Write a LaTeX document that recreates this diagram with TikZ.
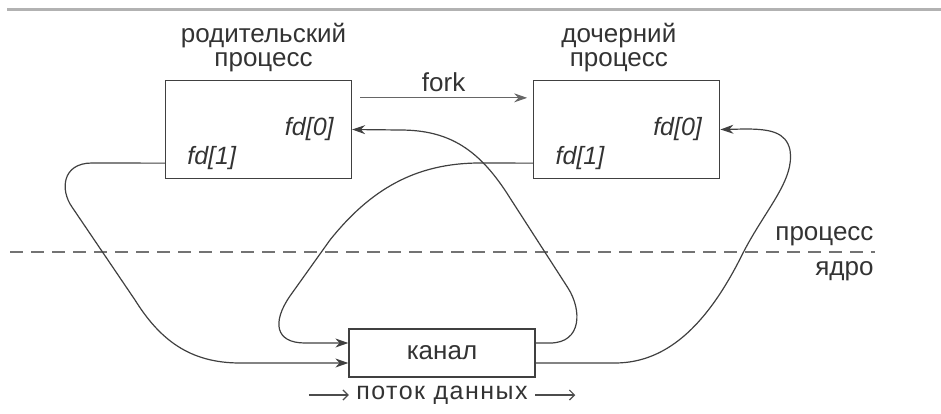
\documentclass[tikz,border=0pt]{standalone}
\usepackage{fontspec}
\setmainfont{Liberation Sans}
\usetikzlibrary{arrows.meta,positioning}

\begin{document}
\begin{tikzpicture}[
    x=1pt, y=-1pt,
    font=\fontsize{26}{24}\selectfont,
    text=black!80,
    proc/.style={draw=black!75, line width=1.3pt, minimum width=186pt, minimum height=98pt, inner sep=0pt},
    fdlabel/.style={font=\fontsize{25}{22}\selectfont\itshape},
    caption/.style={align=center, inner sep=1pt},
    arrow/.style={-{Stealth[length=13pt,width=9pt]}, line width=1.2pt, draw=black!75},
    flowarrow/.style={-{Straight Barb[length=5pt,width=10pt]}, line width=1.2pt, draw=black!70}
]
\useasboundingbox (0,0) rectangle (941,414);
\draw[line width=3pt, black!30] (7,10) -- (941,10);
\draw[line width=1.5pt, black!55, dash pattern=on 13pt off 8pt] (10,252) -- (875,252);

\node[proc] (parent) at (258.5,129.5) {};
\node[proc, right=181pt of parent] (child) {};
\node[proc, minimum height=48pt] (pipe) at (442,353) {канал};

\node[caption, above=7pt of parent, xshift=5pt] (parenttitle) {родительский\\процесс};
\node[caption, above=7pt of child, xshift=-8pt] (childtitle) {дочерний\\процесс};

\node[fdlabel, anchor=east] (pfd0) at ([xshift=-15pt]parent.east) {fd[0]};
\node[fdlabel, anchor=west] (pfd1) at ([xshift=19pt,yshift=21pt]parent.south west) {fd[1]};
\node[fdlabel, anchor=east] (cfd0) at ([xshift=-15pt]child.east) {fd[0]};
\node[fdlabel, anchor=west] (cfd1) at ([xshift=19pt,yshift=21pt]child.south west) {fd[1]};

\node[anchor=east] (userside) at (877,236) {процесс};
\node[anchor=east] (kernelside) at (877,271) {ядро};

\node[font=\fontsize{25}{22}\selectfont\addfontfeature{LetterSpace=6}] (flow) at (442,395) {поток данных};
\draw[flowarrow] ([xshift=-44pt]flow.west) -- ([xshift=-4pt]flow.west);
\draw[flowarrow] ([xshift=4pt]flow.east) -- ([xshift=44pt]flow.east);

\draw[arrow, line width=1pt, draw=black!60] ([xshift=8pt,yshift=-18pt]parent.north east)
    -- node[above=2pt] (forklabel) {fork} ([xshift=-6pt,yshift=-18pt]child.north west);

% write ends go down into the pipe
\draw[arrow] ([yshift=16pt]parent.south west) -- (92,163) .. controls (62,163) and (60,190) .. (72,207)
    -- (135,300) .. controls (160,340) and (190,363) .. (240,363) -- ([yshift=-10pt]pipe.west);
\draw[arrow] ([yshift=16pt]child.south west) -- (480,163) .. controls (415,163) and (370,190) .. (330,240)
    -- (290,296) .. controls (272,322) and (275,343) .. (305,343) -- ([yshift=10pt]pipe.west);

% read ends come back up from the pipe
\draw[arrow] ([yshift=10pt]pipe.east) -- (550,343) .. controls (582,343) and (582,310) .. (568,288)
    -- (510,198) .. controls (480,150) and (450,130) .. (400,130) -- (parent.east);
\draw[arrow] ([yshift=-10pt]pipe.east) -- (615,363) .. controls (670,363) and (710,320) .. (743,253)
    .. controls (765,210) and (795,180) .. (790,150) .. controls (786,132) and (770,129) .. (745,129) -- (child.east);
\end{tikzpicture}
\end{document}
